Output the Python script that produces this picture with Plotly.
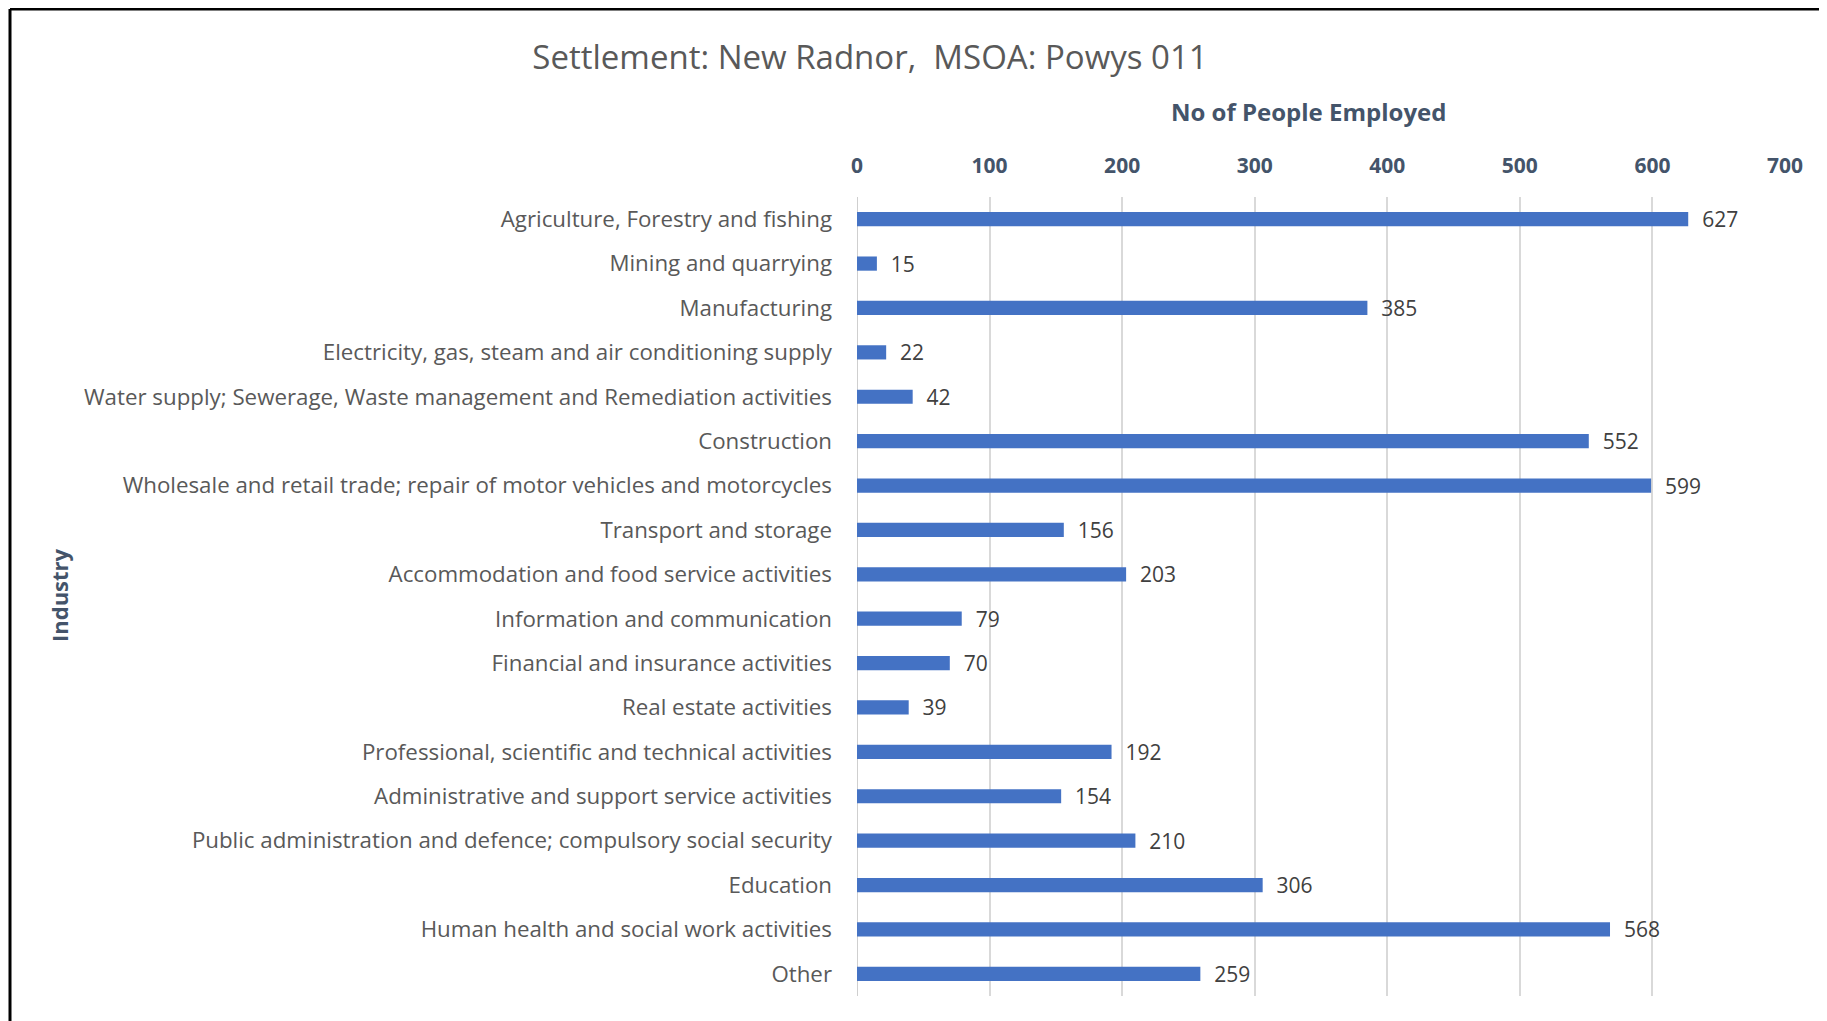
import plotly.graph_objects as go

industries = [
    "Agriculture, Forestry and fishing",
    "Mining and quarrying",
    "Manufacturing",
    "Electricity, gas, steam and air conditioning supply",
    "Water supply; Sewerage, Waste management and Remediation activities",
    "Construction",
    "Wholesale and retail trade; repair of motor vehicles and motorcycles",
    "Transport and storage",
    "Accommodation and food service activities",
    "Information and communication",
    "Financial and insurance activities",
    "Real estate activities",
    "Professional, scientific and technical activities",
    "Administrative and support service activities",
    "Public administration and defence; compulsory social security",
    "Education",
    "Human health and social work activities",
    "Other",
]
employed = [627, 15, 385, 22, 42, 552, 599, 156, 203, 79, 70, 39, 192, 154, 210, 306, 568, 259]

title_text = "Settlement: New Radnor,  MSOA: Powys 011"
x_title = "No of People Employed"
y_title = "Industry"

W, H = 1827, 1021
L, R, T, B = 849, 50, 189, 33
pw, ph = W - L - R, H - T - B

def px_x(p):
    return (p - L) / pw

def px_y(p):
    return (H - B - p) / ph

FONT = "Open Sans"

fig = go.Figure(go.Bar(
    x=employed, y=industries, orientation="h",
    marker=dict(color="#4472C4", line=dict(width=0)),
    width=0.32,
    text=employed, texttemplate="  %{x}", textposition="outside",
    constraintext="none",
    textfont=dict(family=FONT, size=21, color="#404040"),
    cliponaxis=False,
))

fig.update_layout(
    width=W, height=H,
    margin=dict(l=L, r=R, t=T, b=B, autoexpand=False),
    plot_bgcolor="white", paper_bgcolor="white",
    showlegend=False,
    title=dict(text=title_text, x=862 / W, xanchor="center", y=1 - 49 / H, yanchor="middle",
               font=dict(family=FONT, size=33, color="#595959")),
    xaxis=dict(side="top", range=[0, 700], dtick=100, tick0=0,
               showgrid=True, gridcolor="#D9D9D9", gridwidth=1.5,
               zeroline=False, showline=False,
               tickfont=dict(family=FONT, size=21, color="#44546A", weight="bold"),
               ticks="", ticklabelstandoff=19),
    yaxis=dict(autorange="reversed", showgrid=False, zeroline=False, showline=False,
               tickfont=dict(family=FONT, size=22.3, color="#595959"),
               ticks="", ticklabelstandoff=24),
    annotations=[
        dict(text=x_title, xref="paper", yref="paper", x=px_x(1300), y=px_y(104),
             xanchor="center", yanchor="middle", showarrow=False,
             font=dict(family=FONT, size=24, color="#44546A", weight="bold")),
        dict(text=y_title, xref="paper", yref="paper", x=px_x(51), y=px_y(587),
             xanchor="center", yanchor="middle", showarrow=False, textangle=-90,
             font=dict(family=FONT, size=22, color="#44546A", weight="bold")),
    ],
    shapes=[
        dict(type="line", xref="paper", yref="paper", x0=px_x(2), x1=px_x(2), y0=px_y(H + 5), y1=px_y(1),
             line=dict(color="black", width=3)),
        dict(type="line", xref="paper", yref="paper", x0=px_x(2), x1=px_x(W + 5), y0=px_y(1), y1=px_y(1),
             line=dict(color="black", width=3)),
        dict(type="line", xref="x", yref="paper", x0=0, x1=0, y0=0, y1=1,
             line=dict(color="#BFBFBF", width=1.5), layer="below"),
    ],
)

fig.write_html("out.html")
